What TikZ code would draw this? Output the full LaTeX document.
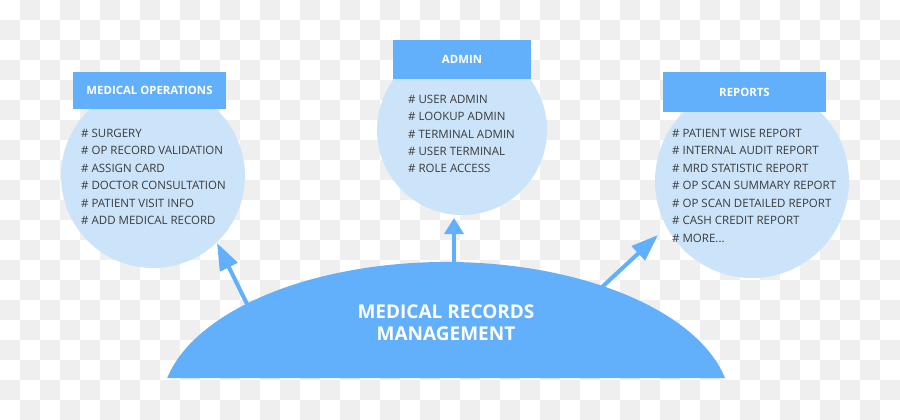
\documentclass[tikz,border=0pt]{standalone}
\usepackage{fontspec}
\setmainfont{Open Sans}
\usetikzlibrary{arrows.meta}
\definecolor{bluedark}{HTML}{62B0FB}
\definecolor{bluelight}{HTML}{CCE4FA}
\definecolor{checker}{HTML}{EFEFEF}
\definecolor{itemtext}{HTML}{3A3A3A}
\newcommand\mydots{...}
\begin{document}
\begin{tikzpicture}[x=1pt,y=-1pt,
  bubble/.style={circle, fill=bluelight, draw=none, inner sep=0pt},
  hdr/.style={rectangle, fill=bluedark, draw=none, inner sep=0pt, text=white, font=\fontsize{11.4}{13}\selectfont\bfseries},
  item/.style={anchor=base west, inner sep=0pt, text=itemtext, font=\fontsize{11.5}{14}\selectfont},
  dometext/.style={align=center, text=white, inner sep=0pt, font=\fontsize{19}{22}\selectfont\bfseries},
  conn/.style={draw=bluedark, line width=4pt, -{Triangle[length=27pt,width=19pt]}},
  connshort/.style={draw=bluedark, line width=3.5pt, -{Triangle[length=16pt,width=19pt]}}]
\useasboundingbox (0,0) rectangle (900,420);
\fill[white] (0,0) rectangle (900,420);
\foreach \i in {0,...,44} {
  \foreach \j in {0,...,20} {
    \pgfmathtruncatemacro{\odd}{mod(\i+\j,2)}
    \ifnum\odd=1 \fill[checker] (20*\i,20*\j) rectangle ++(20,20); \fi
  }
}
% bubbles
\node[bubble, minimum size=184pt] (mo) at (153,176) {};
\node[bubble, minimum size=170pt] (ad) at (462,130) {};
\node[bubble, minimum size=194pt] (rp) at (752,181) {};
% headers
\node[hdr, minimum width=153pt, minimum height=37pt] (moh) at (149.5,90.5) {MEDICAL OPERATIONS};
\node[hdr, minimum width=138pt, minimum height=39pt] (adh) at (462,59.5) {ADMIN};
\node[hdr, minimum width=163pt, minimum height=40pt] (rph) at (744.5,92) {REPORTS};
% items
\foreach \t [count=\i] in {SURGERY, OP RECORD VALIDATION, ASSIGN CARD, DOCTOR CONSULTATION, PATIENT VISIT INFO, ADD MEDICAL RECORD}
  \node[item] (mo-\i) at (81,{137.2+17.5*(\i-1)}) {\# \t};
\foreach \t [count=\i] in {USER ADMIN, LOOKUP ADMIN, TERMINAL ADMIN, USER TERMINAL, ROLE ACCESS}
  \node[item] (ad-\i) at (408,{103.2+17.4*(\i-1)}) {\# \t};
\foreach \t [count=\i] in {PATIENT WISE REPORT, INTERNAL AUDIT REPORT, MRD STATISTIC REPORT, OP SCAN SUMMARY REPORT, OP SCAN DETAILED REPORT, CASH CREDIT REPORT, MORE\mydots}
  \node[item] (rp-\i) at (672,{137.2+17.5*(\i-1)}) {\# \t};
% dome
\fill[bluedark] (725,378) arc[start angle=-11.86, end angle=-168.14, x radius=285, y radius=146] -- cycle;
\node[dometext] (mrm) at (446,323) {MEDICAL RECORDS\\MANAGEMENT};
% connectors
\coordinate (d1) at (247,304);
\coordinate (mo-in) at (217,243);
\coordinate (d2) at (454,264);
\coordinate (ad-in) at (454,218);
\coordinate (d3) at (601,288);
\coordinate (rp-in) at (658,235);
\draw[conn] (d1) -- (mo-in);
\draw[connshort] (d2) -- (ad-in);
\draw[conn] (d3) -- (rp-in);
\end{tikzpicture}
\end{document}
